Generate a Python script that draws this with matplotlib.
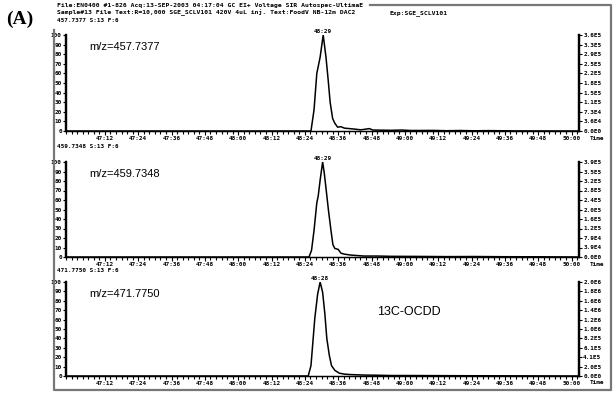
import matplotlib.pyplot as plt
from matplotlib.lines import Line2D
from matplotlib.ticker import FixedLocator, MultipleLocator

# retention time in seconds, intensity in % of the panel maximum
time_1 = [2818, 2906.2, 2907.3, 2908.3, 2908.8, 2909.5, 2910.6, 2911.6, 2912.4, 2913.1,
          2914.0, 2914.8, 2915.8, 2917.0, 2918.2, 2920.0, 2921.8, 2924.2, 2927.2, 2928.5,
          2935.1, 2938.7, 2942.3, 2950, 2955, 2960, 2965, 2970, 2980, 3003]
pct_1 = [0, 0, 22, 60, 67, 77, 100, 77, 53, 30,
         13, 8, 4, 4.5, 3, 2.5, 2, 1.2, 2.5, 1,
         0.7, 1, 0.5, 0.6, 0.3, 0.5, 0.2, 0.4, 0.1, 0]

time_2 = [2818, 2905.5, 2906.4, 2907.3, 2908.3, 2908.8, 2909.5, 2910.4, 2911.0, 2911.7,
          2912.5, 2913.4, 2914.1, 2914.8, 2916.0, 2917.0, 2918.2, 2920.6, 2925.3, 2930.3,
          2935.1, 2945, 2955, 2965, 2975, 2990, 3003]
pct_2 = [0, 0, 7, 28, 57, 64, 81, 100, 88, 70,
         49, 28, 13, 9, 8, 4, 3, 2, 1, 1,
         0.7, 0.6, 0.4, 0.5, 0.3, 0.2, 0]

time_3 = [2818, 2905.2, 2906.2, 2906.8, 2907.6, 2908.6, 2909.5, 2910.4, 2911.2, 2911.9,
          2912.8, 2913.6, 2914.8, 2916.4, 2918.2, 2920.6, 2925.3, 2930.3, 2935.1, 2941.1,
          2950, 2960, 2975, 2990, 3003]
pct_3 = [0, 0, 11, 33, 62, 87, 100, 89, 66, 40,
         22, 11, 6, 3, 2, 1.5, 1, 0.8, 0.5, 0.5,
         0.4, 0.3, 0.2, 0.1, 0]

peak_labels = ["48:29", "48:29", "48:28"]
mz_labels = ["m/z=457.7377", "m/z=459.7348", "m/z=471.7750"]
trace_headers = ["457.7377 S:13 F:6", "459.7348 S:13 F:6", "471.7750 S:13 F:6"]

tick_labels = ["47:12", "47:24", "47:36", "47:48", "48:00", "48:12", "48:24", "48:36",
               "48:48", "49:00", "49:12", "49:24", "49:36", "49:48", "50:00"]
left_labels = ["0", "10", "20", "30", "40", "50", "60", "70", "80", "90", "100"]
right_1 = ["0.0E0", "3.6E4", "7.3E4", "1.1E5", "1.5E5", "1.8E5", "2.2E5", "2.5E5", "2.9E5", "3.3E5", "3.6E5"]
right_2 = ["0.0E0", "3.9E4", "7.9E4", "1.2E5", "1.6E5", "2.0E5", "2.4E5", "2.8E5", "3.2E5", "3.5E5", "3.9E5"]
right_3 = ["0.0E0", "2.0E5", "4.1E5", "6.1E5", "8.2E5", "1.0E6", "1.2E6", "1.4E6", "1.6E6", "1.8E6", "2.0E6"]


def to_sec(lbl):
    m, s = lbl.split(":")
    return int(m) * 60 + int(s)


W, H = 615, 396
mono = "DejaVu Sans Mono"
small = 4.3

fig = plt.figure(figsize=(W / 100, H / 100), dpi=100)


def px(x, y):
    return x / W, 1 - y / H


# frame round the chromatograms
frame = [(370, 5), (611, 5), (611, 390), (54, 390), (54, 30)]
fig.add_artist(Line2D([px(*p)[0] for p in frame], [px(*p)[1] for p in frame],
                      color="#777777", lw=1.6))

fig.text(*px(20, 19), "(A)", fontsize=14, fontweight="bold", family="Liberation Serif",
         ha="center", va="center")
fig.text(*px(57, 5), "File:EN0400 #1-826 Acq:13-SEP-2003 04:17:04 GC EI+ Voltage SIR Autospec-UltimaE",
         fontsize=4.6, family=mono, fontweight="bold", va="center")
fig.text(*px(57, 13), "Sample#13 File Text:R=10,000 SGE_SCLV101 420V 4uL inj. Text:FoodV NB-12m DAC2",
         fontsize=4.6, family=mono, fontweight="bold", va="center")
fig.text(*px(390, 13), "Exp:SGE_SCLV101", fontsize=4.6, family=mono, fontweight="bold", va="center")

panels = [
    (time_1, pct_1, right_1, 35, 131, 21),
    (time_2, pct_2, right_2, 162, 257, 146),
    (time_3, pct_3, right_3, 282, 376, 271),
]
left_px, right_px = 66, 579

for i, (t, p, rlabels, top, bottom, head_y) in enumerate(panels):
    x0, y0 = px(left_px, bottom)
    x1, y1 = px(right_px, top)
    ax = fig.add_axes([x0, y0, x1 - x0, y1 - y0])
    ax.plot(t, p, color="black", lw=1.1)
    ax.set_xlim(2818, 3002.7)
    ax.set_ylim(0, 100)

    ax.xaxis.set_major_locator(FixedLocator([to_sec(s) for s in tick_labels]))
    ax.set_xticklabels(tick_labels, fontsize=small, family=mono, fontweight="bold")
    ax.xaxis.set_minor_locator(MultipleLocator(2))
    ax.tick_params(axis="x", which="major", length=3, width=0.8, pad=0.8)
    ax.tick_params(axis="x", which="minor", length=2, width=0.8)

    ax.set_yticks(range(0, 101, 10))
    ax.set_yticklabels(left_labels, fontsize=small, family=mono, fontweight="bold")
    ax.tick_params(axis="y", length=2, width=0.8, pad=1)

    ax2 = ax.twinx()
    ax2.set_ylim(0, 100)
    ax2.set_yticks(range(0, 101, 10))
    ax2.set_yticklabels(rlabels, fontsize=small, family=mono, fontweight="bold")
    ax2.tick_params(axis="y", length=2, width=0.8, pad=1)

    for a in (ax, ax2):
        a.spines["top"].set_visible(False)
        a.spines["left"].set_linewidth(1.6)
        a.spines["right"].set_linewidth(1.6)
        a.spines["bottom"].set_linewidth(0.9)

    k = p.index(max(p))
    ax.text(t[k], 101, peak_labels[i], fontsize=small, family=mono, fontweight="bold",
            ha="center", va="bottom", clip_on=False)
    ax.text(0.045, 0.87, mz_labels[i], transform=ax.transAxes, fontsize=8,
            family="Liberation Sans", va="center")
    # axis name sits on the tick-label row, right of the last tick
    fig.text(*px(590, bottom + 7), "Time", fontsize=small, family=mono,
             fontweight="bold", va="center", ha="left")
    fig.text(*px(57, head_y), trace_headers[i], fontsize=small, family=mono,
             fontweight="bold", va="center")

    if i == 2:
        ax.text(2930, 68, "13C-OCDD", fontsize=9, family="Liberation Sans",
                ha="left", va="center")

fig.savefig("out.png", dpi=100)
